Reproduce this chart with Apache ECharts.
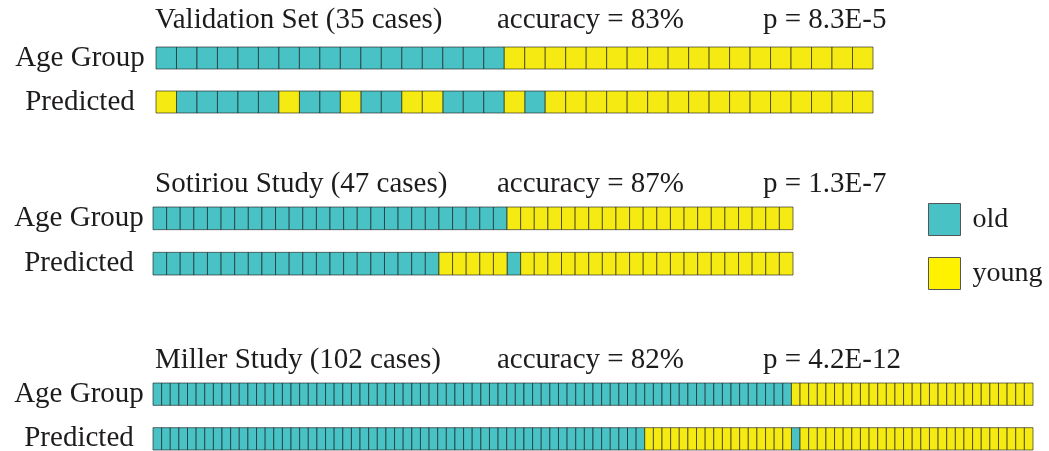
<!DOCTYPE html>
<html>
<head>
<meta charset="utf-8">
<script src="https://cdn.jsdelivr.net/npm/echarts@6/dist/echarts.min.js"></script>
<style>
html,body{margin:0;padding:0;background:#fff;}
#chart{width:1049px;height:451px;}
</style>
</head>
<body>
<div id="chart"></div>
<script>
// 0 = old, 1 = young
const CLASSES = ['old', 'young'];
const ROW_LABELS = ['Age Group', '', 'Predicted'];

const studyNames = ['Validation Set', 'Sotiriou Study', 'Miller Study'];
const caseCounts = [35, 47, 102];
const accuracies = ['83%', '87%', '82%'];
const pValues = ['8.3E-5', '1.3E-7', '4.2E-12'];

const validationAge = [
  0,0,0,0,0,0,0,0,0,0,
  0,0,0,0,0,0,0,1,1,1,
  1,1,1,1,1,1,1,1,1,1,
  1,1,1,1,1
];
const validationPred = [
  1,0,0,0,0,0,1,0,0,1,
  0,0,1,1,0,0,0,1,0,1,
  1,1,1,1,1,1,1,1,1,1,
  1,1,1,1,1
];

const sotiriouAge = [
  0,0,0,0,0,0,0,0,0,0,
  0,0,0,0,0,0,0,0,0,0,
  0,0,0,0,0,0,1,1,1,1,
  1,1,1,1,1,1,1,1,1,1,
  1,1,1,1,1,1,1
];
const sotiriouPred = [
  0,0,0,0,0,0,0,0,0,0,
  0,0,0,0,0,0,0,0,0,0,
  0,1,1,1,1,1,0,1,1,1,
  1,1,1,1,1,1,1,1,1,1,
  1,1,1,1,1,1,1
];

const millerAge = [
  0,0,0,0,0,0,0,0,0,0,
  0,0,0,0,0,0,0,0,0,0,
  0,0,0,0,0,0,0,0,0,0,
  0,0,0,0,0,0,0,0,0,0,
  0,0,0,0,0,0,0,0,0,0,
  0,0,0,0,0,0,0,0,0,0,
  0,0,0,0,0,0,0,0,0,0,
  0,0,0,0,1,1,1,1,1,1,
  1,1,1,1,1,1,1,1,1,1,
  1,1,1,1,1,1,1,1,1,1,
  1,1
];
const millerPred = [
  0,0,0,0,0,0,0,0,0,0,
  0,0,0,0,0,0,0,0,0,0,
  0,0,0,0,0,0,0,0,0,0,
  0,0,0,0,0,0,0,0,0,0,
  0,0,0,0,0,0,0,0,0,0,
  0,0,0,0,0,0,0,1,1,1,
  1,1,1,1,1,1,1,1,1,1,
  1,1,1,1,0,1,1,1,1,1,
  1,1,1,1,1,1,1,1,1,1,
  1,1,1,1,1,1,1,1,1,1,
  1,1
];

const studyAges = [validationAge, sotiriouAge, millerAge];
const studyPreds = [validationPred, sotiriouPred, millerPred];

const FONT = "'Liberation Serif', 'Times New Roman', serif";
const TEXT = '#1e1b1c';
const COLORS = { old: '#49c2c5', young: '#f5ea12' };
const LEGEND_COLORS = { old: '#49c2c6', young: '#fff200' };

const gridsPos = [
  { left: 156, top: 47, width: 717, height: 66 },
  { left: 153, top: 207, width: 640, height: 68 },
  { left: 153, top: 383, width: 880, height: 67 }
];
const titleX = [155, 497, 763];
const titleY = [20, 184, 360];

function cellsFor(age, pred, cls) {
  const out = [];
  age.forEach((v, i) => { if (CLASSES[v] === cls) out.push([i, 0]); });
  pred.forEach((v, i) => { if (CLASSES[v] === cls) out.push([i, 2]); });
  return out;
}

function renderCell(params, api) {
  const c = api.coord([api.value(0), api.value(1)]);
  const s = api.size([1, 1]);
  return {
    type: 'rect',
    shape: { x: c[0] - s[0] / 2, y: c[1] - s[1] / 2, width: s[0], height: s[1] },
    style: { fill: api.visual('color'), stroke: 'rgba(20,20,20,0.6)', lineWidth: 1 }
  };
}

const grid = [], xAxis = [], yAxis = [], series = [], graphic = [];
studyNames.forEach((name, k) => {
  grid.push(Object.assign({ containLabel: false, outerBoundsMode: 'none' }, gridsPos[k]));
  xAxis.push({
    gridIndex: k, type: 'category',
    data: studyAges[k].map((_, i) => i),
    show: false
  });
  yAxis.push({
    gridIndex: k, type: 'category', data: ROW_LABELS, inverse: true,
    axisLine: { show: false }, axisTick: { show: false }, splitLine: { show: false },
    axisLabel: {
      fontFamily: FONT, fontSize: 29, color: TEXT,
      align: 'center', margin: k === 0 ? 76 : 74, padding: [0, 0, 8, 0]
    }
  });
  CLASSES.forEach(cls => {
    series.push({
      name: cls, type: 'custom', xAxisIndex: k, yAxisIndex: k,
      renderItem: renderCell,
      itemStyle: { color: COLORS[cls] },
      encode: { x: 0, y: 1 },
      data: cellsFor(studyAges[k], studyPreds[k], cls),
      silent: true, animation: false
    });
  });
  const texts = [
    name + ' (' + caseCounts[k] + ' cases)',
    'accuracy = ' + accuracies[k],
    'p = ' + pValues[k]
  ];
  texts.forEach((t, j) => {
    graphic.push({
      type: 'text', x: titleX[j], y: titleY[k],
      style: { text: t, font: '29px ' + FONT, fill: TEXT, verticalAlign: 'middle', align: 'left' }
    });
  });
});

const chart = echarts.init(document.getElementById('chart'), null, { renderer: 'canvas' });
chart.setOption({
  animation: false,
  backgroundColor: '#fff',
  grid, xAxis, yAxis, series, graphic,
  legend: {
    orient: 'vertical', left: 923, top: 198,
    itemWidth: 32, itemHeight: 32, itemGap: 21,
    icon: 'rect',
    selectedMode: false,
    data: CLASSES.map(c => ({ name: c, itemStyle: { color: LEGEND_COLORS[c], borderColor: '#555', borderWidth: 1 } })),
    textStyle: { fontFamily: FONT, fontSize: 28, color: TEXT, padding: [0, 0, 0, 7], lineHeight: 30 }
  }
});
</script>
</body>
</html>
